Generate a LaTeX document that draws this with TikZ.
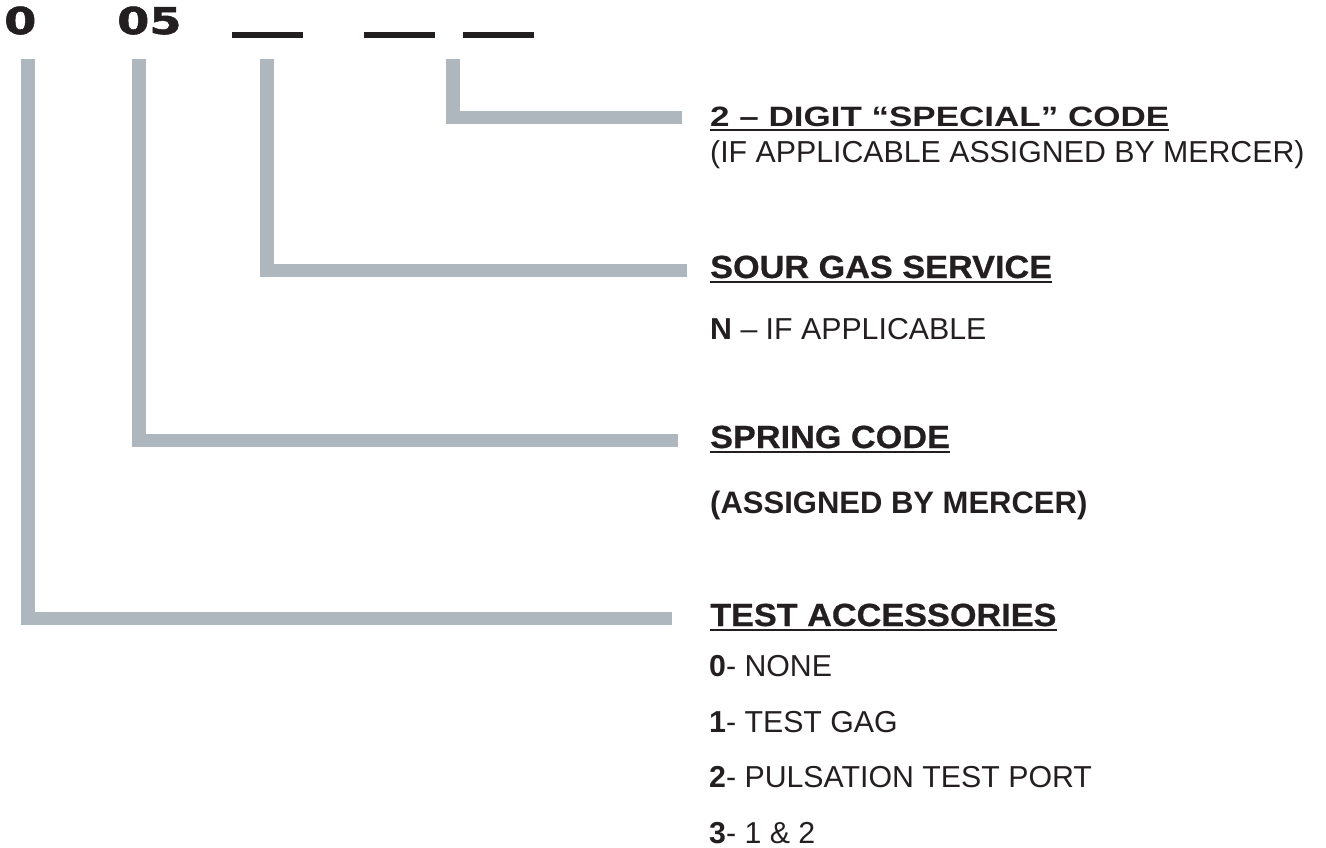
\documentclass[tikz,border=0pt]{standalone}
\usepackage{fontspec}
\setmainfont{Liberation Sans}
\newfontfamily\digitfont[FakeStretch=1.25,BoldFeatures={FakeBold=1.5}]{DejaVu Sans}
\newfontfamily\widebold[FakeStretch=1.07,BoldFeatures={FakeBold=0.6}]{Liberation Sans}
\newfontfamily\xwidebold[FakeStretch=1.25]{Liberation Sans}
\usetikzlibrary{calc}
\definecolor{ink}{RGB}{35,31,32}
\definecolor{barcol}{RGB}{175,183,190}
\begin{document}
\begin{tikzpicture}[x=1pt,y=-1pt,
  bar/.style={draw=barcol,line width=13.5pt,line cap=butt,line join=miter},
  txt/.style={anchor=base west,inner sep=0pt,text=ink},
  light/.style={txt,font=\fontsize{30.3}{30}\selectfont},
  head/.style={txt,font=\widebold\bfseries\fontsize{32}{32}\selectfont},
  uline/.style={draw=ink,line width=2pt},
  blank/.style={fill=ink,inner sep=0pt,minimum width=71pt,minimum height=6pt},
  digit/.style={txt,font=\digitfont\bfseries\fontsize{37}{37}\selectfont}]
\useasboundingbox (0,0) rectangle (1326,848);

% code digits
\node[digit] (d0) at (4,34) {0};
\node[digit] (d05) at (117,34) {05};
\node[blank] (u1) at (267.5,35) {};
\node[blank] (u2) at (399.5,35) {};
\node[blank] (u3) at (498.5,35) {};

% bar start / end points
\coordinate (s1) at (28,59);
\coordinate (s2) at (139,59);
\coordinate (s3) at (267,59);
\coordinate (s4) at (453,59);
\coordinate (e1) at (672,618.5);
\coordinate (e2) at (678,440.5);
\coordinate (e3) at (687,270.5);
\coordinate (e4) at (682,117.5);

\draw[bar] (s1) |- (e1);
\draw[bar] (s2) |- (e2);
\draw[bar] (s3) |- (e3);
\draw[bar] (s4) |- (e4);

% special code
\node[txt,font=\xwidebold\bfseries\fontsize{28}{28}\selectfont] (h4) at (710,127) {2 – DIGIT “SPECIAL” CODE};
\draw[uline] ($(h4.base west)+(0,3.5)$) -- ($(h4.base east)+(0,3.5)$);
\node[light] (l4) at (710,163) {(IF APPLICABLE ASSIGNED BY MERCER)};

% sour gas
\node[head] (h3) at (710,278) {SOUR GAS SERVICE};
\draw[uline] ($(h3.base west)+(0,4)$) -- ($(h3.base east)+(0,4)$);
\node[light] (l3) at (710,339) {\textbf{N} – IF APPLICABLE};

% spring code
\node[head] (h2) at (710,448) {SPRING CODE};
\draw[uline] ($(h2.base west)+(0,4)$) -- ($(h2.base east)+(0,4)$);
\node[txt,font=\bfseries\fontsize{31}{31}\selectfont] (l2) at (710,513) {(ASSIGNED BY MERCER)};

% test accessories
\node[head] (h1) at (710,626) {TEST ACCESSORIES};
\draw[uline] ($(h1.base west)+(0,4)$) -- ($(h1.base east)+(0,4)$);
\node[light] (o0) at (709,676) {\textbf{0}- NONE};
\node[light] (o1) at (709,732) {\textbf{1}- TEST GAG};
\node[light] (o2) at (709,787) {\textbf{2}- PULSATION TEST PORT};
\node[light] (o3) at (709,843) {\textbf{3}- 1 \& 2};
\end{tikzpicture}
\end{document}
